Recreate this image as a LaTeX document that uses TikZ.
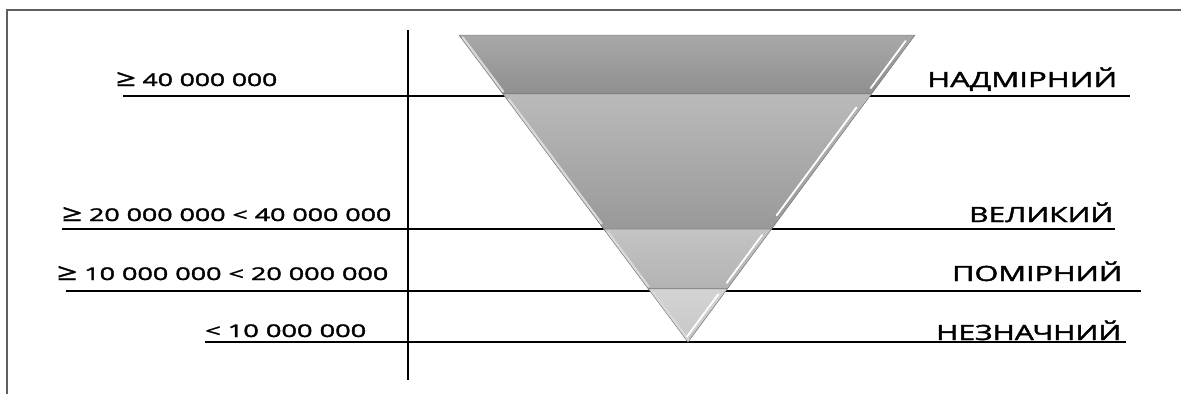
\documentclass[tikz,border=0pt]{standalone}
\usepackage{fontspec}
\setmainfont{Open Sans}
\newfontfamily\lblfont{Open Sans}[FakeBold=1.6]
\usepackage{graphicx}
\usetikzlibrary{calc}
\definecolor{framegrey}{RGB}{95, 95, 95}
\definecolor{bandedge}{RGB}{130, 130, 130}
\newcommand{\fitto}[2]{\resizebox{#1}{\height}{#2}}
\newcommand{\bigge}{\scalebox{1.3}{≥}}

\begin{document}
\begin{tikzpicture}[x=1pt, y=1pt,
  levelline/.style={line width=1.7pt, black},
  lefttext/.style={anchor=base west, inner sep=0pt, font=\lblfont\fontsize{17.5}{20}\selectfont},
  righttext/.style={anchor=base west, inner sep=0pt, font=\lblfont\fontsize{21}{24}\selectfont},
  bandfill/.style={draw=bandedge, line width=0.5pt, shading=axis, shading angle=0}
]
  \useasboundingbox (0,0) rectangle (1181,-394);
  \draw[framegrey, line width=1.2pt] (7,-394) |- (1181,-10);

  % axis and level lines
  \coordinate (axtop) at (408,-30);
  \coordinate (axbot) at (408,-380);
  \coordinate (a1) at (123,-96);  \coordinate (b1) at (1130,-96);
  \coordinate (a2) at (62,-229);  \coordinate (b2) at (1115,-229);
  \coordinate (a3) at (66,-291);  \coordinate (b3) at (1141,-291);
  \coordinate (a4) at (205,-342); \coordinate (b4) at (1126,-342);
  \draw[levelline] (a1) -- (b1);
  \draw[levelline] (a2) -- (b2);
  \draw[levelline] (a3) -- (b3);
  \draw[levelline] (a4) -- (b4);
  \draw[line width=2.6pt] (axtop) -- (axbot);

  % funnel
  \coordinate (tl) at (459,-35);
  \coordinate (tr) at (915,-35);
  \coordinate (ap) at (688,-342);
  \coordinate (l1) at ($(tl)!0.192!(ap)$); \coordinate (r1) at ($(tr)!0.192!(ap)$);
  \coordinate (l2) at ($(tl)!0.632!(ap)$); \coordinate (r2) at ($(tr)!0.632!(ap)$);
  \coordinate (l3) at ($(tl)!0.827!(ap)$); \coordinate (r3) at ($(tr)!0.827!(ap)$);
  \foreach \p/\q/\r/\s/\ctop/\cbot in {tl/tr/r1/l1/34/44, l1/r1/r2/l2/27/40,
      l2/r2/r3/l3/23/30, l3/r3/ap/ap/17/22} {
    \fill[bandfill, top color=black!\ctop, bottom color=black!\cbot]
      (\p) -- (\q) -- (\r) -- (\s) -- cycle;
    \draw[white!70!gray, line width=2.2pt, line cap=round]
      ($(\p)!0.04!(\s)+(2,0)$) -- ($(\p)!0.96!(\s)+(2,0)$);
    \draw[white, line width=1.8pt, line cap=round]
      ($(\q)!0.1!(\r)+(-5,0)$) -- ($(\q)!0.9!(\r)+(-5,0)$);
  }

  % class labels
  \node[lefttext] (v1) at (116,-86) {\fitto{161pt}{\bigge\ 40 000 000}};
  \node[lefttext] (v2) at (62,-221) {\fitto{329pt}{\bigge\ 20 000 000 < 40 000 000}};
  \node[lefttext] (v3) at (57,-280) {\fitto{331pt}{\bigge\ 10 000 000 < 20 000 000}};
  \node[lefttext] (v4) at (205,-337) {\fitto{161pt}{< 10 000 000}};
  \node[righttext] (k1) at (927,-87) {\fitto{190pt}{НАДМІРНИЙ}};
  \node[righttext] (k2) at (969,-222) {\fitto{144pt}{ВЕЛИКИЙ}};
  \node[righttext] (k3) at (952,-281) {\fitto{170pt}{ПОМІРНИЙ}};
  \node[righttext] (k4) at (936,-340) {\fitto{185pt}{НЕЗНАЧНИЙ}};
\end{tikzpicture}
\end{document}
